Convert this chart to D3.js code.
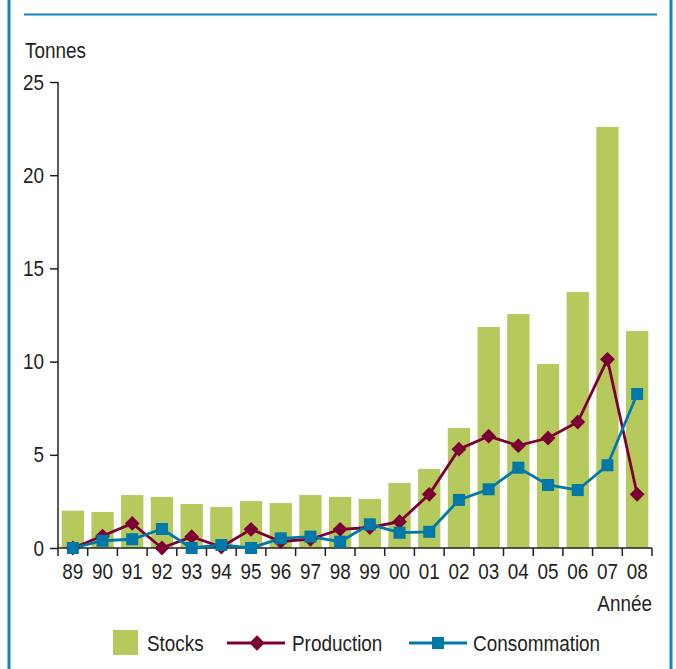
<!DOCTYPE html>
<html><head><meta charset="utf-8">
<script src="https://cdn.jsdelivr.net/npm/d3@7"></script>
<style>
html,body{margin:0;padding:0;background:#fff;}
svg{display:block;}
text{font-family:"Liberation Sans",Arial,sans-serif;fill:#231f20;}
</style></head>
<body>
<svg id="c" width="676" height="669"></svg>
<script>
const years = ["89","90","91","92","93","94","95","96","97","98","99","00","01","02","03","04","05","06","07","08"];
const stocks = [2.0,1.93,2.84,2.74,2.36,2.2,2.52,2.41,2.84,2.74,2.63,3.49,4.24,6.44,11.86,12.55,9.87,13.73,22.59,11.64];
const production = [0,0.64,1.32,0,0.61,0.05,1.0,0.35,0.47,1.0,1.1,1.41,2.88,5.3,6.0,5.49,5.9,6.76,10.12,2.88];
const consommation = [0,0.39,0.47,1.02,0,0.16,0,0.52,0.61,0.34,1.27,0.82,0.87,2.58,3.15,4.31,3.38,3.11,4.44,8.26];
const yTicks = [0,5,10,15,20,25];
const seriesNames = ["Stocks","Production","Consommation"];

const colStock = "#b5c95d", colProd = "#7d0035", colCons = "#0079a8", frameCol = "#1287ba";
const SX = 0.86, FS = 22;
const svg = d3.select("#c");

function label(g, x, y, txt, anchor){
  return g.append("text").attr("transform",`translate(${x},${y}) scale(${SX},1)`)
    .attr("font-size",FS).attr("text-anchor",anchor||"start").text(txt);
}

// frame
svg.append("line").attr("x1",9).attr("x2",9).attr("y1",0).attr("y2",669).attr("stroke",frameCol).attr("stroke-width",3);
svg.append("line").attr("x1",671).attr("x2",671).attr("y1",0).attr("y2",669).attr("stroke",frameCol).attr("stroke-width",3);
svg.append("line").attr("x1",24).attr("x2",657).attr("y1",14.5).attr("y2",14.5).attr("stroke",frameCol).attr("stroke-width",2);

const x = d3.scaleBand().domain(years).range([58,652]).paddingInner(0.25).paddingOuter(0.125);
const y = d3.scaleLinear().domain([0,25]).range([548,82]);
const step = x.step();

// bars
svg.append("g").selectAll("rect").data(years).join("rect")
  .attr("x",d=>x(d)).attr("width",x.bandwidth())
  .attr("y",(d,i)=>y(stocks[i])).attr("height",(d,i)=>y(0)-y(stocks[i]))
  .attr("fill",colStock);

// y axis
const ya = svg.append("g").attr("transform","translate(58,0)")
  .call(d3.axisLeft(y).tickValues(yTicks).tickSize(8).tickPadding(6));
ya.select(".domain").attr("stroke","#231f20").attr("stroke-width",1.5).attr("d","M0,82V548");
ya.selectAll(".tick line").attr("stroke","#231f20").attr("stroke-width",1.5);
ya.selectAll(".tick text").attr("font-size",FS).attr("fill","#231f20").attr("font-family",null)
  .attr("x",-14/SX).attr("transform",`scale(${SX},1)`);

// x axis
const xa = svg.append("g").attr("transform","translate(0,548)")
  .call(d3.axisBottom(x).tickSize(0).tickPadding(15));
xa.select(".domain").attr("stroke","#231f20").attr("stroke-width",1.5).attr("d","M58,0H652");
xa.selectAll(".tick text").attr("font-size",FS).attr("fill","#231f20").attr("font-family",null)
  .attr("transform",`scale(${SX},1)`);
const bounds = years.map(d=>x(d)-step*x.paddingInner()/2).concat([652]);
xa.selectAll("line.b").data(bounds).join("line").attr("class","b")
  .attr("x1",d=>d).attr("x2",d=>d).attr("y1",0).attr("y2",8)
  .attr("stroke","#231f20").attr("stroke-width",1.5);

const cx = d=>x(d)+x.bandwidth()/2;

// lines
const lineGen = vals => d3.line().x((d,i)=>cx(years[i])).y(d=>y(d))(vals);
svg.append("path").attr("d",lineGen(production)).attr("fill","none").attr("stroke",colProd).attr("stroke-width",2.8);
svg.append("path").attr("d",lineGen(consommation)).attr("fill","none").attr("stroke",colCons).attr("stroke-width",2.8);

svg.append("g").selectAll("path").data(production).join("path")
  .attr("d",d3.symbol().type(d3.symbolSquare).size(110))
  .attr("transform",(d,i)=>`translate(${cx(years[i])},${y(d)}) rotate(45)`)
  .attr("fill",colProd);
svg.append("g").selectAll("rect").data(consommation).join("rect")
  .attr("x",(d,i)=>cx(years[i])-6).attr("y",d=>y(d)-6).attr("width",12).attr("height",12)
  .attr("fill",colCons);

// titles
label(svg, 25, 58, "Tonnes");
label(svg, 652, 611, "Année", "end");

// legend
const lg = svg.append("g");
lg.append("rect").attr("x",113).attr("y",630).attr("width",25).attr("height",25).attr("fill",colStock);
label(lg, 147, 651, seriesNames[0]);
lg.append("line").attr("x1",227).attr("x2",285).attr("y1",643).attr("y2",643).attr("stroke",colProd).attr("stroke-width",3);
lg.append("path").attr("d",d3.symbol().type(d3.symbolSquare).size(120)).attr("transform","translate(257,643) rotate(45)").attr("fill",colProd);
label(lg, 292, 651, seriesNames[1]);
lg.append("line").attr("x1",409).attr("x2",467).attr("y1",643).attr("y2",643).attr("stroke",colCons).attr("stroke-width",3);
lg.append("rect").attr("x",432).attr("y",637).attr("width",12).attr("height",12).attr("fill",colCons);
label(lg, 473, 651, seriesNames[2]);
</script>
</body></html>
